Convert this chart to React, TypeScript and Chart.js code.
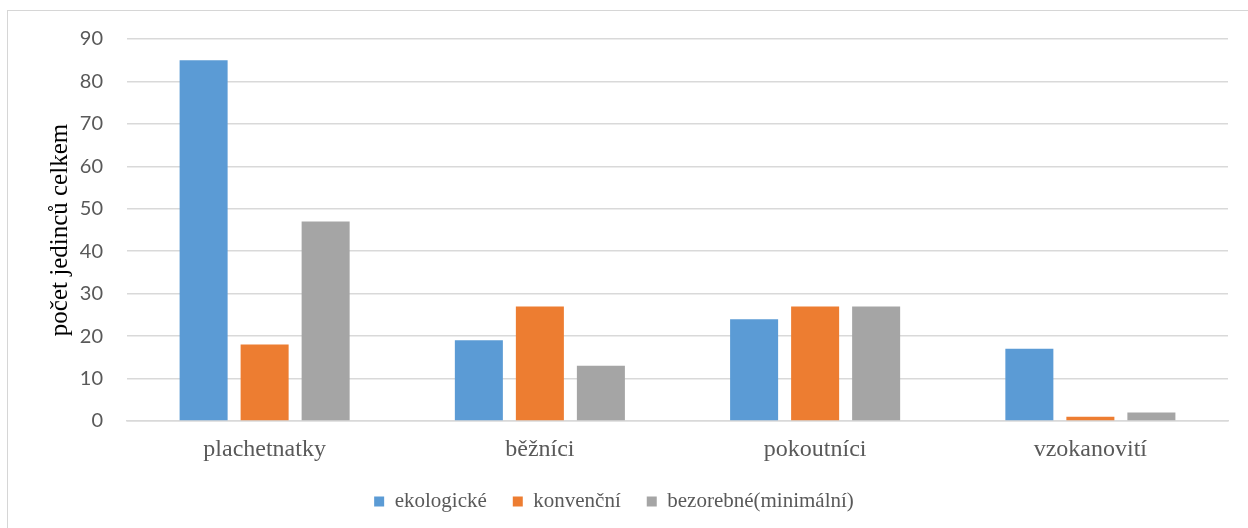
import React, { useEffect, useRef } from "react";
import { Chart, registerables } from "chart.js";

Chart.register(...registerables);

const categories = ["plachetnatky", "běžníci", "pokoutníci", "vzokanovití"];
const seriesNames = ["ekologické", "konvenční", "bezorebné(minimální)"];
const ekologicke = [85, 19, 24, 17];
const konvencni = [18, 27, 27, 1];
const bezorebne = [47, 13, 27, 2];
const colors = ["#5B9BD5", "#ED7D31", "#A5A5A5"];
const yTitle = "počet jedinců celkem";

export default function App() {
  const ref = useRef<HTMLCanvasElement | null>(null);
  useEffect(() => {
    if (!ref.current) return;
    const values = [ekologicke, konvencni, bezorebne];
    const chart = new Chart(ref.current, {
      type: "bar",
      data: {
        labels: categories,
        datasets: values.map((v, i) => ({
          label: seriesNames[i],
          data: v,
          backgroundColor: colors[i],
          borderWidth: 0,
          categoryPercentage: 0.665,
          barPercentage: 0.787,
        })),
      },
      options: {
        animation: false,
        responsive: false,
        maintainAspectRatio: false,
        layout: { padding: { left: 0, right: 20, top: 39, bottom: 6 } },
        plugins: {
          tooltip: { enabled: false },
          legend: {
            position: "bottom",
            labels: {
              boxWidth: 10,
              boxHeight: 10,
              padding: 26,
              color: "#595959",
              font: { family: "'Liberation Serif', 'Times New Roman', serif", size: 21 },
            },
          },
        },
        scales: {
          x: {
            grid: { display: false, drawTicks: false },
            border: { display: true, color: "#d9d9d9", width: 1.5 },
            ticks: {
              padding: 14,
              color: "#595959",
              font: { family: "'Liberation Serif', 'Times New Roman', serif", size: 24 },
            },
            afterFit: (s: any) => {
              s.height = 44;
            },
          },
          y: {
            min: 0,
            max: 90,
            ticks: {
              stepSize: 10,
              padding: 24,
              color: "#595959",
              font: { family: "Lato, 'Open Sans', sans-serif", size: 20 },
            },
            grid: { color: "#d9d9d9", lineWidth: 1.5, drawTicks: false },
            border: { display: false },
            title: {
              display: true,
              text: yTitle,
              color: "#000000",
              padding: { top: 45, bottom: 0 },
              font: { family: "'Liberation Serif', 'Times New Roman', serif", size: 25 },
            },
            afterFit: (s: any) => {
              s.width = 127;
            },
          },
        },
      },
    });
    return () => chart.destroy();
  }, []);
  return (
    <div style={{ position: "fixed", left: 0, top: 0, width: 1248, height: 528, overflow: "hidden", background: "#fff" }}>
      <div
        style={{
          position: "absolute",
          left: 7,
          top: 10,
          width: 1260,
          height: 540,
          border: "1px solid #d6d6d6",
          boxSizing: "border-box",
        }}
      />
      <canvas ref={ref} width={1248} height={528} style={{ position: "absolute", left: 0, top: 0 }} />
    </div>
  );
}
